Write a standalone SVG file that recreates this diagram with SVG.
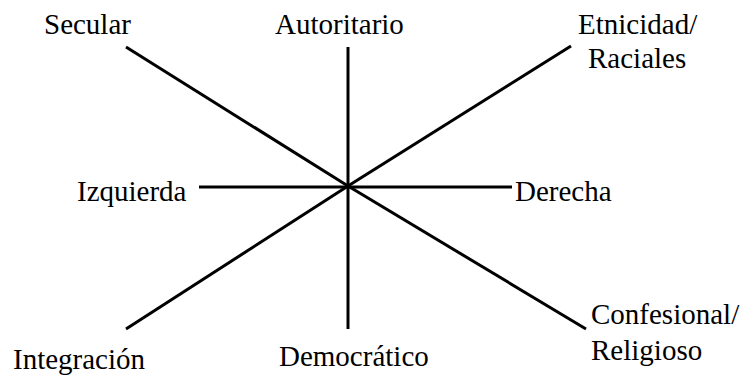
<svg xmlns="http://www.w3.org/2000/svg" width="743" height="375" viewBox="0 0 743 375">
<style>
text{font-family:"Liberation Serif","Times New Roman",serif;font-size:29px;fill:#000}
.ax line{stroke:#000;stroke-width:3;stroke-linecap:butt}
</style>
<rect width="743" height="375" fill="#fff"/>
<g id="connectors" class="ax">
<line x1="348" y1="186" x2="126" y2="47"/>
<line x1="348" y1="186" x2="348" y2="47"/>
<line x1="348" y1="186" x2="571" y2="46"/>
<line x1="348" y1="187" x2="199" y2="187"/>
<line x1="348" y1="187" x2="512" y2="187"/>
<line x1="348" y1="186" x2="126" y2="329"/>
<line x1="348" y1="186" x2="348" y2="329"/>
<line x1="348" y1="186" x2="586" y2="329"/>
</g>
<g id="secular"><text x="44" y="34">Secular</text></g>
<g id="autoritario"><text x="275" y="34">Autoritario</text></g>
<g id="etnicidad"><text x="578" y="34">Etnicidad/</text><text x="588" y="68">Raciales</text></g>
<g id="izquierda"><text x="77" y="201">Izquierda</text></g>
<g id="derecha"><text x="515" y="201">Derecha</text></g>
<g id="integracion"><text x="13" y="369">Integración</text></g>
<g id="democratico"><text x="279" y="366">Democrático</text></g>
<g id="confesional"><text x="591" y="324">Confesional/</text><text x="591" y="360">Religioso</text></g>
</svg>
